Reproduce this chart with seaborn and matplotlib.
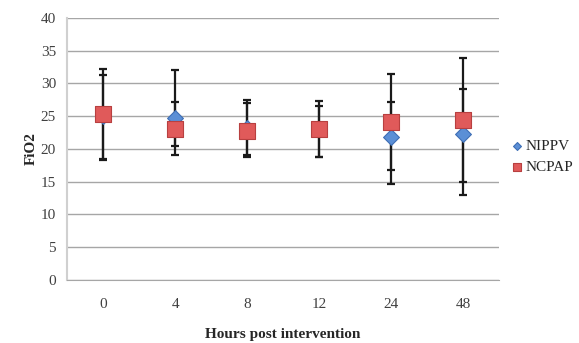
import matplotlib
matplotlib.use('Agg')
import matplotlib.pyplot as plt
import seaborn as sns
import pandas as pd
import numpy as np

hours = ['0', '4', '8', '12', '24', '48']

nippv_mean = [25.0, 24.7, 23.2, 23.0, 21.8, 22.2]
nippv_low = [18.5, 20.5, 19.1, 18.7, 14.6, 13.0]
nippv_high = [31.3, 32.1, 27.5, 26.5, 27.2, 29.1]

ncpap_mean = [25.3, 23.0, 22.7, 23.0, 24.1, 24.4]
ncpap_low = [18.3, 19.1, 18.8, 18.7, 16.8, 14.9]
ncpap_high = [32.2, 27.1, 27.0, 27.3, 31.4, 33.8]

sns.set_style('white')
plt.rcParams['font.family'] = ['Liberation Serif', 'DejaVu Serif']

fig = plt.figure(figsize=(5.79, 3.43), dpi=100)
ax = fig.add_axes([0.116, 0.184, 0.746, 0.764])

df = pd.DataFrame({
    'hours': hours * 2,
    'fio2': nippv_mean + ncpap_mean,
    'group': ['NIPPV'] * 6 + ['NCPAP'] * 6,
})

# error bars first, markers on top
for mean, lo, hi in [(nippv_mean, nippv_low, nippv_high), (ncpap_mean, ncpap_low, ncpap_high)]:
    m = np.array(mean)
    yerr = [m - np.array(lo), np.array(hi) - m]
    ax.errorbar(np.arange(len(hours)), m, yerr=yerr, fmt='none', ecolor='#1a1a1a',
                elinewidth=1.6, capsize=3.2, capthick=1.6, zorder=3)

sns.scatterplot(data=df[df.group == 'NIPPV'], x='hours', y='fio2', marker='D', s=65,
                color='#5b8fd6', edgecolor='#3f6fb5', linewidth=0.8, ax=ax, zorder=4,
                label='NIPPV')
sns.scatterplot(data=df[df.group == 'NCPAP'], x='hours', y='fio2', marker='s', s=125,
                color='#e05a5a', edgecolor='#b84040', linewidth=0.8, ax=ax, zorder=5,
                label='NCPAP')

ax.set_xlim(-0.5, 5.5)
ax.set_ylim(0, 40)
ax.set_yticks(range(0, 41, 5))
ax.yaxis.grid(True, color='#a6a6a6', linewidth=1)
ax.set_axisbelow(True)

ax.set_xticks(range(6))
ax.set_xticklabels(hours)
ax.set_xticks(np.arange(-0.5, 6, 1), minor=True)
ax.tick_params(axis='x', which='major', length=0, pad=13, labelsize=11, colors='#404040')
ax.tick_params(axis='x', which='minor', length=5, color='#a6a6a6', direction='out')
ax.tick_params(axis='y', length=5, color='#a6a6a6', direction='out', labelsize=11,
               labelcolor='#404040', pad=3)

for side in ['top', 'right']:
    ax.spines[side].set_visible(False)
ax.spines['left'].set_color('#d0d0d0')
ax.spines['left'].set_linewidth(1.5)
ax.spines['bottom'].set_color('#a6a6a6')

ax.set_xlabel('Hours post intervention', fontweight='bold', fontsize=11, labelpad=12)
ax.set_ylabel('FiO2', fontweight='bold', fontsize=11, labelpad=2)

ax.legend(loc='center left', bbox_to_anchor=(1.0, 0.47), frameon=False, fontsize=11,
          handletextpad=0.0, labelspacing=0.45, markerscale=0.5, borderaxespad=0.3,
          handlelength=1.0)

fig.savefig('out.png', dpi=100)
